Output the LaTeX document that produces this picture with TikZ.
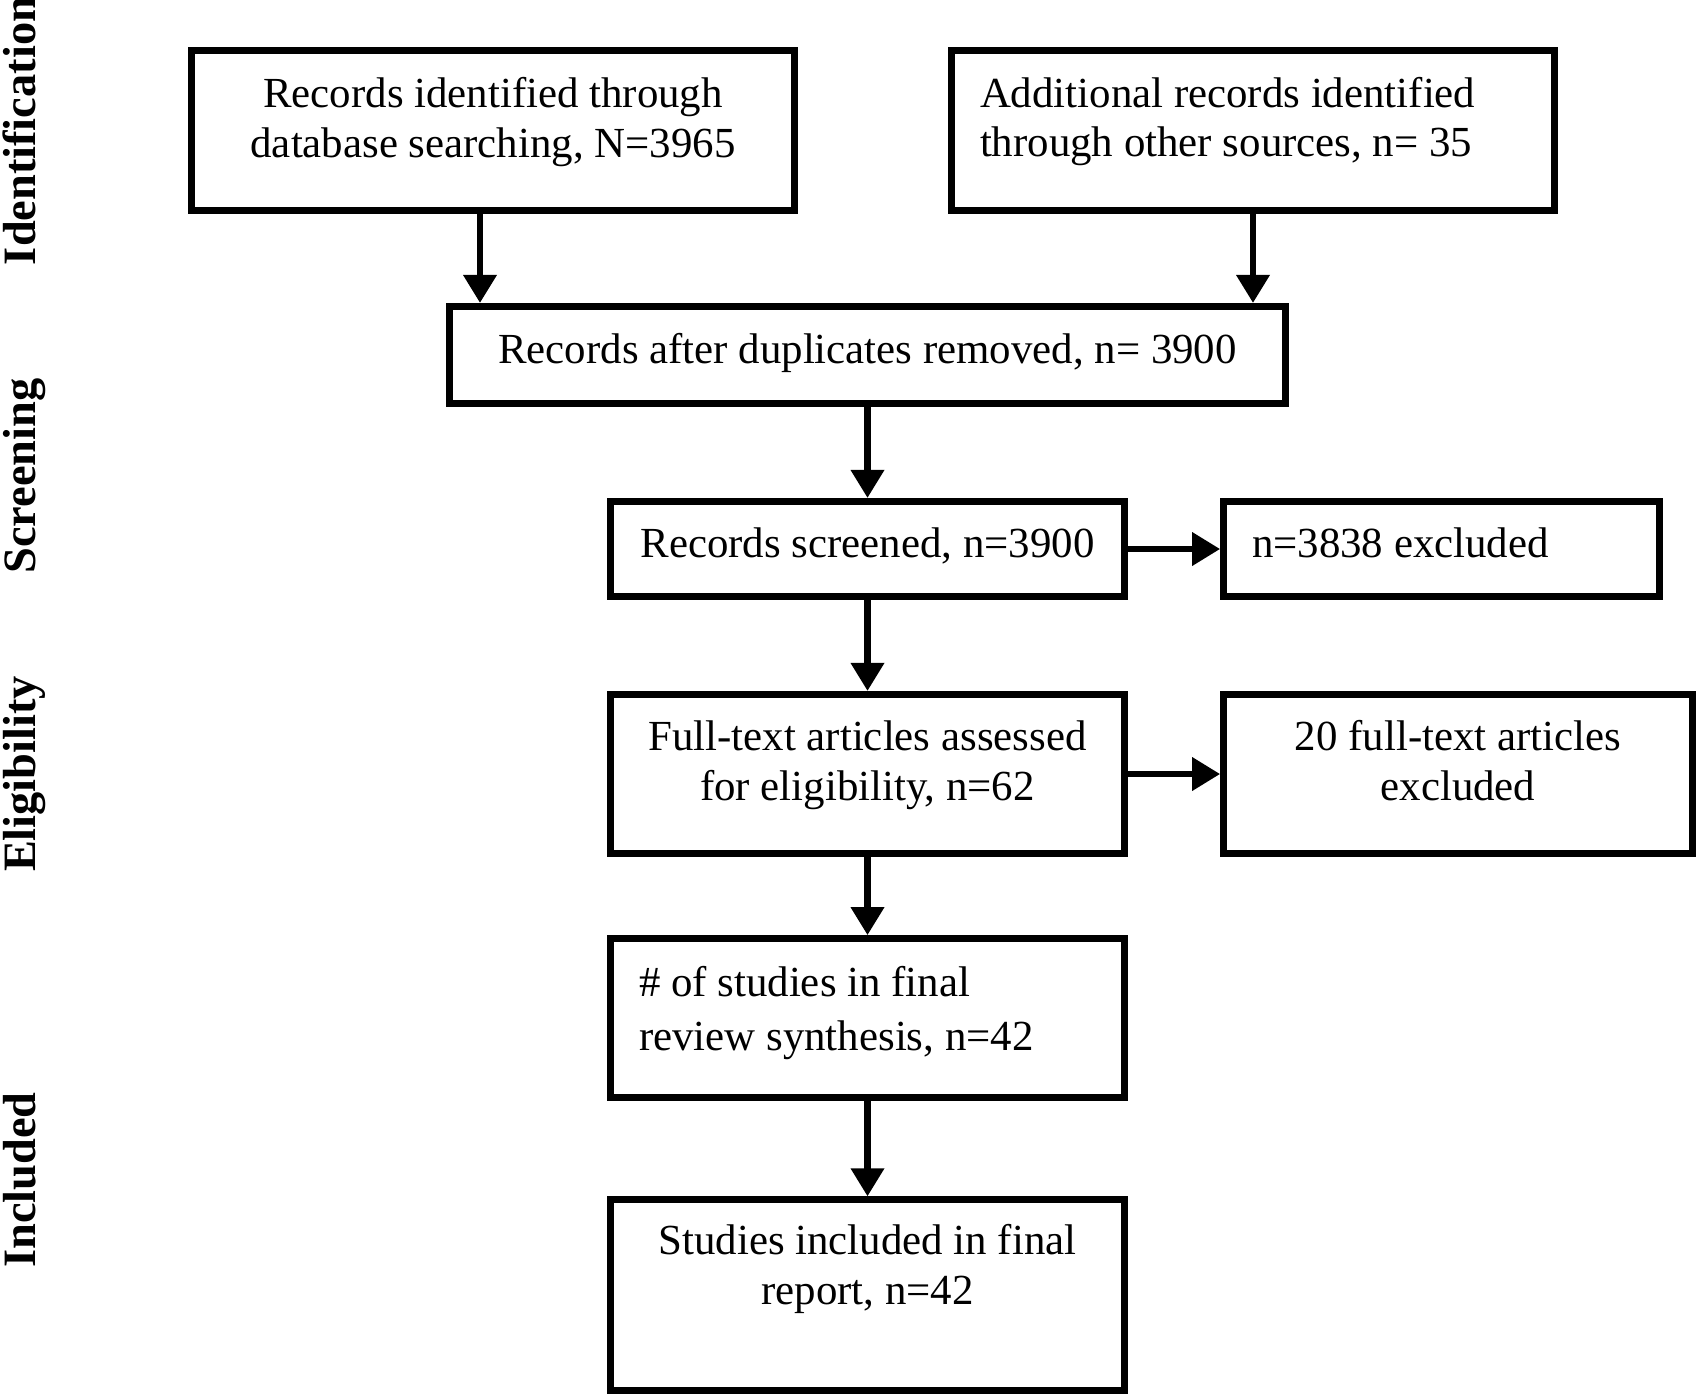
\documentclass[tikz,border=0pt]{standalone}
\usepackage{fontspec}
\setmainfont{Liberation Serif}
\usetikzlibrary{positioning}
\usetikzlibrary{arrows.meta}
\tikzset{phase/.style={rotate=90, anchor=base, inner sep=0pt, font=\fontsize{13.2}{15}\selectfont\bfseries}}

\begin{document}
\begin{tikzpicture}[box/.style={draw, line width=1.9pt, inner sep=0pt, align=center, font=\fontsize{12.2}{14.2}\selectfont},
    leftbox/.style={box, align=flush left, execute at begin node={\spaceskip=0pt\xspaceskip=0pt}},
    arrow_flow/.style={-{Triangle[length=0.28cm, width=0.32cm]}, line width=1.9pt},
]
\useasboundingbox (0,0) rectangle (16.97,-13.96);

% phases on the left
\node[phase] (identification) at (0.35,-1.31) {Identification};
\node[phase] (screening) at (0.35,-4.76) {Screening};
\node[phase] (eligibility) at (0.35,-7.74) {Eligibility};
\node[phase] (included) at (0.35,-11.80) {Included};

\node[box, minimum width=6.03cm, text height=1.067cm, text depth=0.537cm] (db) at (4.93,-1.305) {Records identified through\\database searching, N=3965};
\node[leftbox, right of=db, xshift=6.6cm, minimum width=6.03cm, text width=5.46cm, text height=0.567cm, text depth=1.037cm] (other) {Additional records identified\\through other sources, n= 35};

\node[box, below of=db, xshift=3.745cm, yshift=-1.245cm, minimum width=8.36cm, text height=0.567cm, text depth=0.407cm] (dup) {Records after duplicates removed, n= 3900};

\node[box, below of=dup, yshift=-0.94cm, minimum width=5.14cm, text height=0.557cm, text depth=0.397cm] (screened) {Records screened, n=3900};
\node[leftbox, right of=screened, xshift=4.74cm, minimum width=4.36cm, text width=3.79cm, text height=0.557cm, text depth=0.397cm] (excl1) {n=3838 excluded};

\node[box, below of=screened, yshift=-1.25cm, minimum width=5.14cm, text height=1.057cm, text depth=0.537cm] (fulltext) {Full-text articles assessed\\for eligibility, n=62};
\node[box, right of=fulltext, xshift=4.905cm, minimum width=4.69cm, text height=1.057cm, text depth=0.537cm] (excl2) {20 full-text articles\\excluded};

\node[leftbox, below of=fulltext, yshift=-1.44cm, minimum width=5.14cm, text width=4.57cm, text height=0.577cm, text depth=1.013cm] (synth) {\# of studies in final\\[0.04cm]review synthesis, n=42};
\node[box, below of=synth, yshift=-1.772cm, minimum width=5.14cm, text height=1.043cm, text depth=0.867cm] (final) {Studies included in final\\report, n=42};

\draw[arrow_flow] ([xshift=-0.13cm]db.south) -- ([xshift=-0.13cm]db.south |- dup.north);
\draw[arrow_flow] (other.south) -- (other.south |- dup.north);
\draw[arrow_flow] (dup) -- (screened);

% excluded records
\draw[arrow_flow] (screened) -- (excl1);
\draw[arrow_flow] (screened) -- (fulltext);
\draw[arrow_flow] (fulltext) -- (excl2);

\draw[arrow_flow] (fulltext) -- (synth);
\draw[arrow_flow] (synth) -- (final);

\end{tikzpicture}
\end{document}
